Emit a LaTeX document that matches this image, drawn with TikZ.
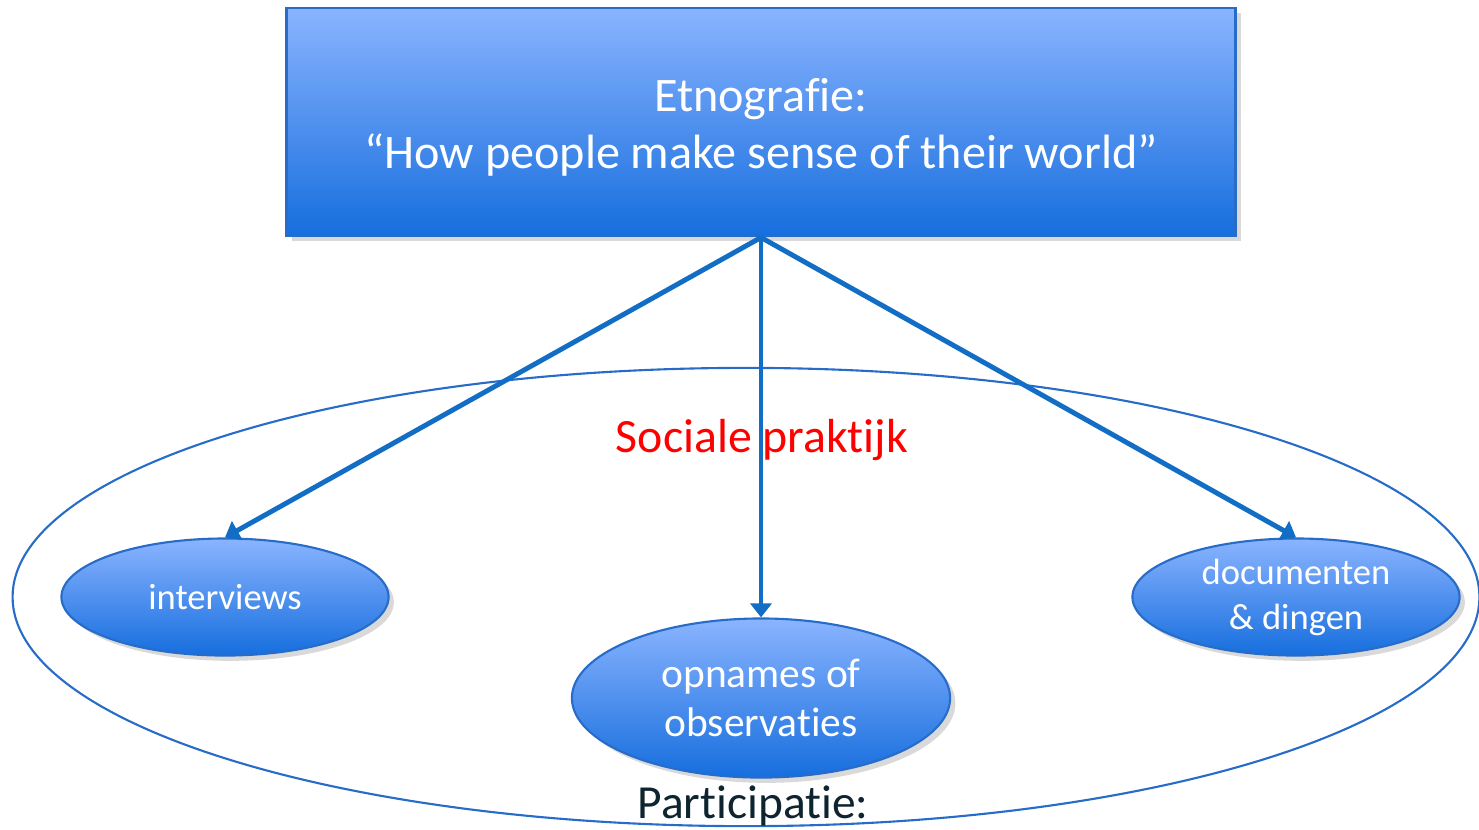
\documentclass[tikz,border=0pt]{standalone}
\usepackage{fontspec}
\setmainfont[Ligatures={TeX,NoCommon}]{Carlito}
\usepackage{tikz}
\usetikzlibrary{shapes.geometric, arrows.meta, shadows}
\definecolor{lichtblauw}{RGB}{138,180,255}
\definecolor{donkerblauw}{RGB}{22,110,222}
\definecolor{randblauw}{RGB}{38,108,200}
\definecolor{pijlblauw}{RGB}{18,110,196}
\definecolor{tekstdonker}{RGB}{14,36,46}

\begin{document}
\begin{tikzpicture}[
        x=0.01cm, y=-0.01cm,
        schaduw/.style={drop shadow={opacity=0.3, shadow xshift=1.5pt, shadow yshift=-1.5pt}},
        blok/.style={rectangle, draw=randblauw, thick, top color=lichtblauw, bottom color=donkerblauw, schaduw, minimum width=9.49cm, minimum height=2.28cm, text=white, align=center, font=\fontsize{13.7}{16.2}\selectfont},
        methode/.style={ellipse, draw=randblauw, semithick, top color=lichtblauw, bottom color=donkerblauw, schaduw, inner sep=0pt, text=white, align=center},
        praktijk/.style={ellipse, draw=randblauw, semithick, minimum width=14.66cm, minimum height=4.58cm},
        verbinding/.style={-{Triangle[width=6pt, length=4pt]}, line width=1.4pt, pijlblauw}
    ]
    \useasboundingbox (0,0) rectangle (1479,829);

    % achtergrond: sociale praktijk
    \node[praktijk] (sociaal) at (746,597) {};
    \node[text=red, font=\fontsize{13.6}{15}\selectfont] (sociaaltekst) at (762,440) {Sociale praktijk};

    % bovenste blok
    \node[blok] (etno) at (761,122) {\rule{0pt}{12.5pt}Etnografie:\\``How people make sense of their world''};

    % methoden
    \node[methode, minimum width=3.27cm, minimum height=1.17cm, font=\fontsize{10.4}{12.5}\selectfont] (interviews) at (225,597) {interviews};
    \node[methode, minimum width=3.78cm, minimum height=1.59cm, font=\fontsize{11.8}{14}\selectfont] (opnames) at (761,698) {opnames of\\observaties};
    \node[methode, minimum width=3.27cm, minimum height=1.17cm, font=\fontsize{10.4}{12.8}\selectfont] (documenten) at (1296,597) {documenten\\\& dingen};

    \node[text=tekstdonker, font=\fontsize{13.5}{16}\selectfont] (participatie) at (753,806) {Participatie:};

    % --- PIJLEN ---
    \draw[verbinding] (etno.south) -- (interviews.north);
    \draw[verbinding] (etno.south) -- (opnames.north);
    \draw[verbinding] (etno.south) -- (documenten.north);

\end{tikzpicture}
\end{document}
